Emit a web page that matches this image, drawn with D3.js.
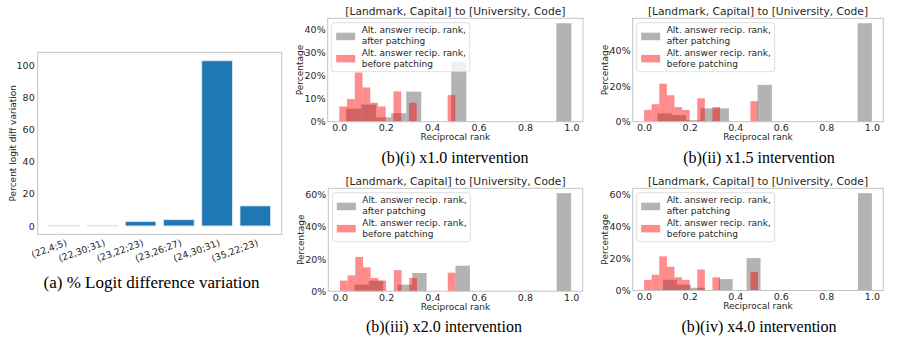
<!DOCTYPE html>
<html><head><meta charset="utf-8">
<script src="https://cdn.jsdelivr.net/npm/d3@7"></script>
<style>
body{margin:0;background:#fff;}
svg{display:block;}
text{font-family:"DejaVu Sans",sans-serif;fill:#262626;}
.cap{font-family:"Liberation Serif","Times New Roman",serif;fill:#000;}
</style></head>
<body>
<svg id="c" width="897" height="339"></svg>
<script>
// ---------- Panel (a) data ----------
const layerCats = ["(22,4;5)", "(22,30;31)", "(23,22;23)", "(23,26;27)", "(24,30;31)", "(35,22;23)"];
const logitVariation = [0.2, 0.2, 2.7, 3.9, 103, 12.5];
const logitTicks = [0, 20, 40, 60, 80, 100];

// ---------- Panel (b) data ----------
const histTitle = "[Landmark, Capital] to [University, Code]";
const legendAfter = ["Alt. answer recip. rank,", "after patching"];
const legendBefore = ["Alt. answer recip. rank,", "before patching"];
const nBins = 15;
// "before patching" histogram (same in all four panels): bin range and percentages
const beforeRange = [0, 0.5];
const beforePct = [6.6, 9.8, 21.3, 14.8, 8.2, 6.6, 0, 13.1, 0, 8.2, 0, 0, 0, 0, 11.5];
// "after patching" histograms: bin range and percentages per intervention
const afterRange_i = [1/34, 1];
const afterPct_i = [5.6, 7.4, 1.9, 3.7, 13.0, 0, 0, 25.9, 0, 0, 0, 0, 0, 0, 42.6];
const afterRange_ii = [1/17, 1];
const afterPct_ii = [4.7, 3.7, 0.9, 7.5, 7.5, 0, 0, 20.6, 0, 0, 0, 0, 0, 0, 55.1];
const afterRange_iii = [1/16, 1];
const afterPct_iii = [4.1, 6.5, 0, 4.1, 11.3, 0, 0, 15.8, 0, 0, 0, 0, 0, 0, 60.8];
const afterRange_iv = [1/12, 1];
const afterPct_iv = [6.7, 3.6, 1.7, 0, 7.1, 0, 20.2, 0, 0, 0, 0, 0, 0, 0, 60.7];
const xTicks = [0, 0.2, 0.4, 0.6, 0.8, 1.0];
const yTicks_i = [0, 10, 20, 30, 40];
const yTicks_ii = [0, 20, 40];
const yTicks_iii = [0, 20, 40, 60];
const yTicks_iv = [0, 20, 40, 60];
const captions = ["(b)(i) x1.0 intervention", "(b)(ii) x1.5 intervention", "(b)(iii) x2.0 intervention", "(b)(iv) x4.0 intervention"];
const captionA = "(a) % Logit difference variation";

const svg = d3.select("#c");
const spine = "#c4c4c4";
const redAlpha = 0.45;

// ---------- Panel (a) ----------
(function(){
  const L = 37.7, R = 281.7, T = 52.3, B = 234.3;
  const x = d3.scaleLinear().domain([-0.69, 5.69]).range([L, R]);
  const y = d3.scaleLinear().domain([-5.2, 108.3]).range([B, T]);
  const g = svg.append("g");
  g.selectAll("rect.bar").data(logitVariation).join("rect")
    .attr("x", (d,i) => x(i - 0.4)).attr("width", x(0.8) - x(0))
    .attr("y", d => y(Math.max(d,0))).attr("height", d => Math.abs(y(0) - y(d)))
    .attr("fill", "#1f77b4").attr("stroke", "#d9e7f3").attr("stroke-width", 0.8);
  g.append("rect").attr("x", L).attr("y", T).attr("width", R-L).attr("height", B-T)
    .attr("fill", "none").attr("stroke", spine).attr("stroke-width", 1);
  const ya = g.append("g").attr("transform", `translate(${L},0)`)
    .call(d3.axisLeft(y).tickValues(logitTicks).tickSize(0).tickPadding(3));
  ya.select(".domain").remove();
  ya.selectAll("text").attr("font-size", 9.5).attr("font-family", "DejaVu Sans").attr("fill", "#262626");
  const xa = g.append("g").attr("transform", `translate(0,${B})`)
    .call(d3.axisBottom(x).tickValues(d3.range(layerCats.length)).tickFormat(i => layerCats[i]).tickSize(0));
  xa.select(".domain").remove();
  xa.selectAll("text").attr("font-size", 9.3).attr("font-family", "DejaVu Sans").attr("fill", "#262626")
    .attr("text-anchor", "end").attr("y", 0).attr("dy", 0)
    .attr("transform", "translate(3,11) rotate(-20)");
  g.append("text").attr("transform", `translate(12.5,${(T+B)/2}) rotate(-90)`)
    .attr("text-anchor", "middle").attr("dy", "0.35em").attr("font-size", 9).text("Percent logit diff variation");
  g.append("text").attr("class", "cap").attr("x", 151.5).attr("y", 288).attr("text-anchor", "middle")
    .attr("font-size", 17).text(captionA);
})();

// ---------- Panel (b) histograms ----------
function hist(box, afterRange, afterPct, yTicks, caption, capPos){
  const {L, R, T, B} = box;
  const x = d3.scaleLinear().domain([-0.05, 1.05]).range([L, R]);
  const maxV = d3.max(afterPct.concat(beforePct));
  const y = d3.scaleLinear().domain([0, maxV * 1.05]).range([B, T]);
  const g = svg.append("g");
  const bins = (range, pct) => pct.map((v, k) => {
    const w = (range[1] - range[0]) / nBins;
    return {x0: range[0] + k*w, x1: range[0] + (k+1)*w, v};
  }).filter(d => d.v > 0);
  g.selectAll("rect.after").data(bins(afterRange, afterPct)).join("rect")
    .attr("x", d => x(d.x0)).attr("width", d => x(d.x1) - x(d.x0))
    .attr("y", d => y(d.v)).attr("height", d => y(0) - y(d.v))
    .attr("fill", "rgb(128,128,128)").attr("fill-opacity", 0.6);
  g.selectAll("rect.before").data(bins(beforeRange, beforePct)).join("rect")
    .attr("x", d => x(d.x0)).attr("width", d => x(d.x1) - x(d.x0))
    .attr("y", d => y(d.v)).attr("height", d => y(0) - y(d.v))
    .attr("fill", "rgb(255,0,0)").attr("fill-opacity", redAlpha);
  g.append("rect").attr("x", L).attr("y", T).attr("width", R-L).attr("height", B-T)
    .attr("fill", "none").attr("stroke", spine).attr("stroke-width", 1);
  const xa = g.append("g").attr("transform", `translate(0,${B})`)
    .call(d3.axisBottom(x).tickValues(xTicks).tickFormat(d3.format(".1f")).tickSize(0).tickPadding(3));
  xa.select(".domain").remove();
  xa.selectAll("text").attr("font-size", 9.5).attr("font-family", "DejaVu Sans").attr("fill", "#262626");
  const ya = g.append("g").attr("transform", `translate(${L},0)`)
    .call(d3.axisLeft(y).tickValues(yTicks).tickFormat(d => d + "%").tickSize(0).tickPadding(2));
  ya.select(".domain").remove();
  ya.selectAll("text").attr("font-size", 9.5).attr("font-family", "DejaVu Sans").attr("fill", "#262626");
  g.append("text").attr("x", (L+R)/2).attr("y", T - 3.5).attr("text-anchor", "middle")
    .attr("font-size", 10.7).text(histTitle);
  g.append("text").attr("x", (L+R)/2).attr("y", B + 18.5).attr("text-anchor", "middle")
    .attr("font-size", 9).text("Reciprocal rank");
  g.append("text").attr("transform", `translate(${L - 27.5},${(T+B)/2}) rotate(-90)`)
    .attr("text-anchor", "middle").attr("dy", "0.35em").attr("font-size", 9).text("Percentage");
  // legend
  const lg = g.append("g").attr("transform", `translate(${L+4},${T+4.4})`);
  lg.append("rect").attr("width", 138).attr("height", 49).attr("rx", 2.5)
    .attr("fill", "#fff").attr("fill-opacity", 0.8).attr("stroke", "#d6d6d6").attr("stroke-width", 0.8);
  lg.append("rect").attr("x", 4.5).attr("y", 10).attr("width", 19).attr("height", 7.5)
    .attr("fill", "rgb(128,128,128)").attr("fill-opacity", 0.6);
  lg.append("rect").attr("x", 4.5).attr("y", 32.2).attr("width", 19).attr("height", 7.5)
    .attr("fill", "rgb(255,0,0)").attr("fill-opacity", redAlpha);
  [[legendAfter, 10.3], [legendBefore, 33.6]].forEach(([lines, y0]) => {
    lines.forEach((s, i) => lg.append("text").attr("x", 30).attr("y", y0 + i*10.7)
      .attr("font-size", 9).text(s));
  });
  svg.append("text").attr("class", "cap").attr("x", capPos[0]).attr("y", capPos[1])
    .attr("text-anchor", "middle").attr("font-size", 16).text(caption);
}

hist({L:327.7, R:583, T:18.3, B:121.7}, afterRange_i, afterPct_i, yTicks_i, captions[0], [455, 163]);
hist({L:632.7, R:883.3, T:18.3, B:121.7}, afterRange_ii, afterPct_ii, yTicks_ii, captions[1], [759, 163]);
hist({L:328.3, R:582.7, T:188.3, B:291.2}, afterRange_iii, afterPct_iii, yTicks_iii, captions[2], [444, 332]);
hist({L:632.7, R:883.3, T:188.3, B:290.5}, afterRange_iv, afterPct_iv, yTicks_iv, captions[3], [759, 332]);
</script>
</body></html>
